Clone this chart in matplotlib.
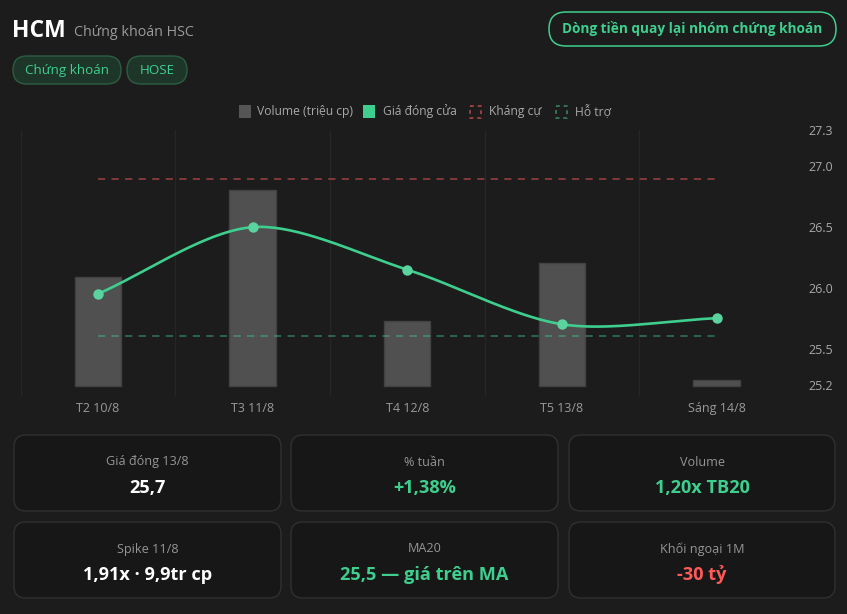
import matplotlib
matplotlib.use('Agg')
import matplotlib.pyplot as plt
import numpy as np
from matplotlib.patches import FancyBboxPatch, Rectangle

# ---------------- data ----------------
categories = ['T2 10/8', 'T3 11/8', 'T4 12/8', 'T5 13/8', 'Sáng 14/8']
volume = [5.5, 9.9, 3.3, 6.2, 0.3]          # triệu cp
close = [25.95, 26.5, 26.15, 25.7, 25.75]   # giá đóng cửa
resistance = 26.9
support = 25.6
price_ticks = [25.2, 25.5, 26.0, 26.5, 27.0, 27.3]
price_tick_labels = ['25.2', '25.5', '26.0', '26.5', '27.0', '27.3']

ticker = 'HCM'
company = 'Chứng khoán HSC'
tags = ['Chứng khoán', 'HOSE']
headline = 'Dòng tiền quay lại nhóm chứng khoán'
legend_labels = ['Volume (triệu cp)', 'Giá đóng cửa', 'Kháng cự', 'Hỗ trợ']

card_labels = ['Giá đóng 13/8', '% tuần', 'Volume',
               'Spike 11/8', 'MA20', 'Khối ngoại 1M']
card_values = ['25,7', '+1,38%', '1,20x TB20',
               '1,91x · 9,9tr cp', '25,5 — giá trên MA', '-30 tỷ']

# ---------------- style ----------------
BG = '#1c1c1c'
GREEN = '#3ecf8e'
RED = '#ff5a5a'
FONT = ['Open Sans', 'DejaVu Sans']
plt.rcParams['font.family'] = FONT

W, H = 847, 614
fig = plt.figure(figsize=(W / 100, H / 100), dpi=100, facecolor=BG)

# overlay axes in pixel coordinates
ov = fig.add_axes([0, 0, 1, 1], zorder=0)
ov.set_xlim(0, W)
ov.set_ylim(H, 0)
ov.axis('off')
ov.patch.set_alpha(0)

# header
ov.text(12, 31, ticker, color='white', fontsize=16.5, fontweight='bold',
        va='center', ha='left')
ov.text(74, 32, company, color='#9a9a9a', fontsize=10.3, va='center', ha='left')

pill_x = [(13, 121), (127, 187)]
for (x0, x1), t in zip(pill_x, tags):
    ov.add_patch(FancyBboxPatch((x0, 56), x1 - x0, 28,
                                boxstyle='round,pad=0,rounding_size=14',
                                facecolor='#1e3629', edgecolor='#2c5e44', lw=1))
    ov.text((x0 + x1) / 2, 70.5, t, color=GREEN, fontsize=9.6,
            ha='center', va='center')

ov.add_patch(FancyBboxPatch((549, 12), 287, 34,
                            boxstyle='round,pad=0,rounding_size=17',
                            facecolor=BG, edgecolor=GREEN, lw=1.1))
ov.text(692.5, 29, headline, color=GREEN, fontsize=9.8, fontweight='bold',
        ha='center', va='center')

# legend
ly = 111.5
LC = '#a8a8a8'
LF = 8.7
ov.add_patch(Rectangle((239, ly - 6.5), 12, 13, facecolor='#555555', edgecolor='none'))
ov.text(257, ly, legend_labels[0], color=LC, fontsize=LF, va='center')
ov.add_patch(Rectangle((363, ly - 6.5), 12, 13, facecolor=GREEN, edgecolor='none'))
ov.text(383, ly, legend_labels[1], color=LC, fontsize=LF, va='center')
ov.add_patch(Rectangle((470, ly - 6), 11, 12, facecolor='none',
                       edgecolor='#b84a4a', lw=1.1, linestyle=(0, (2.5, 2.5))))
ov.text(489, ly, legend_labels[2], color=LC, fontsize=LF, va='center')
ov.add_patch(Rectangle((556, ly - 6), 11, 12, facecolor='none',
                       edgecolor='#3a8a66', lw=1.1, linestyle=(0, (2.5, 2.5))))
ov.text(575, ly, legend_labels[3], color=LC, fontsize=LF, va='center')

# cards
col_x = [(14, 281), (291, 558), (569, 835)]
row_y = [(435, 511), (522, 598)]
value_colors = ['white', GREEN, GREEN, 'white', GREEN, RED]
for k, (lab, val) in enumerate(zip(card_labels, card_values)):
    r, c = divmod(k, 3)
    x0, x1 = col_x[c]
    y0, y1 = row_y[r]
    ov.add_patch(FancyBboxPatch((x0, y0), x1 - x0, y1 - y0,
                                boxstyle='round,pad=0,rounding_size=12',
                                facecolor='#171717', edgecolor='#303030', lw=1))
    cx = (x0 + x1) / 2
    ov.text(cx, y0 + 27, lab, color='#959595', fontsize=9.1, ha='center', va='center')
    ov.text(cx, y0 + 53, val, color=value_colors[k], fontsize=13.1,
            fontweight='bold', ha='center', va='center')

# ---------------- main chart ----------------
AX_L, AX_R, AX_T, AX_B = 20.5, 794, 130, 396
ax = fig.add_axes([AX_L / W, 1 - AX_B / H, (AX_R - AX_L) / W, (AX_B - AX_T) / H],
                  zorder=2)
ax.patch.set_alpha(0)
n = len(categories)
xs = np.arange(n)
ax.set_xlim(-0.5, n - 0.5)

# volume axis: baseline at y=386 px, 12.9 at top
vol_top = 12.9
px_per_vol = (386 - AX_T) / vol_top
ax.set_ylim(-(AX_B - 386) / px_per_vol, vol_top)
ax.bar(xs, volume, width=0.3, color='#505050', edgecolor='#424242', lw=1, zorder=2)
for b in np.arange(-0.5, n, 1.0):
    ax.axvline(b, color='#262626', lw=1, zorder=1)

for s in ax.spines.values():
    s.set_visible(False)
ax.set_yticks([])
ax.set_xticks(xs)
ax.set_xticklabels(categories, color='#9a9a9a', fontsize=9)
ax.tick_params(axis='x', length=0, pad=4.5)

# price axis
ax2 = ax.twinx()
ax2.patch.set_alpha(0)
for s in ax2.spines.values():
    s.set_visible(False)
p_top = 27.3
px_per_p = (385 - AX_T) / (p_top - 25.2)
ax2.set_ylim(25.2 - (AX_B - 385) / px_per_p, p_top)
ax2.set_yticks(price_ticks)
ax2.set_yticklabels(price_tick_labels, color='#a8a8a8', fontsize=9)
ax2.tick_params(axis='y', length=0, pad=10.5)

ax2.plot([xs[0], xs[-1]], [resistance, resistance], color='#e05555', alpha=0.55,
         lw=1.3, dashes=(4, 3.5), zorder=3)
ax2.plot([xs[0], xs[-1]], [support, support], color=GREEN, alpha=0.45,
         lw=1.3, dashes=(4, 3.5), zorder=3)


def smooth_curve(xd, yd, sx, sy, tension=0.3, steps=40):
    """Chart.js-style cardinal bezier smoothing in pixel space."""
    P = np.column_stack([np.asarray(xd, float) * sx, np.asarray(yd, float) * sy])
    m = len(P)
    cps = []
    for i in range(m):
        cur = P[i]
        prev = P[i - 1] if i > 0 else cur
        nxt = P[i + 1] if i < m - 1 else cur
        v = nxt - prev
        d0 = np.linalg.norm(cur - prev)
        d1 = np.linalg.norm(cur - nxt)
        tot = d0 + d1
        s0 = d0 / tot if tot > 0 else 0
        s1 = d1 / tot if tot > 0 else 0
        cps.append((cur - v * tension * s0, cur + v * tension * s1))
    out = []
    t = np.linspace(0, 1, steps)[:, None]
    for i in range(m - 1):
        p0, p3 = P[i], P[i + 1]
        c1 = cps[i][1]
        c2 = cps[i + 1][0]
        seg = ((1 - t) ** 3) * p0 + 3 * ((1 - t) ** 2) * t * c1 + \
            3 * (1 - t) * t ** 2 * c2 + t ** 3 * p3
        out.append(seg if i == 0 else seg[1:])
    out = np.vstack(out)
    return out[:, 0] / sx, out[:, 1] / sy


px_per_cat = (AX_R - AX_L) / n
cx_, cy_ = smooth_curve(xs, close, px_per_cat, px_per_p)
ax2.plot(cx_, cy_, color=GREEN, lw=1.9, zorder=4, solid_capstyle='round')
ax2.plot(xs, close, 'o', color='#5ad39e', markersize=7.5, zorder=5,
         markeredgewidth=0)

fig.savefig('out.png', dpi=100, facecolor=BG)
